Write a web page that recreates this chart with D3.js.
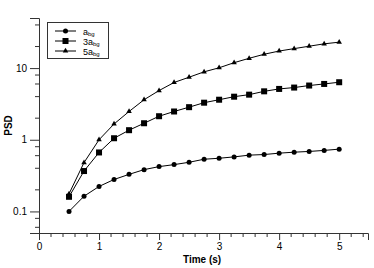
<!DOCTYPE html>
<html lang="en">
<head>
<meta charset="UTF-8">
<title>PSD vs Time</title>
<style>
    body { margin: 0; background: #fff; }
    svg { display: block; font-family: "Liberation Sans", Arial, sans-serif; }
    .axis path, .axis line { stroke: #333; }
    .axis text { font-size: 10px; fill: #000; }
    .series { fill: none; stroke: #000; stroke-width: 1; }
</style>
</head>
<body>
<svg id="chart" width="374" height="268"></svg>
<script src="https://d3js.org/d3.v7.min.js"></script>
<script>
// time points (s)
const times = [0.5, 0.75, 1.0, 1.25, 1.5, 1.75, 2.0, 2.25, 2.5, 2.75, 3.0, 3.25, 3.5, 3.75, 4.0, 4.25, 4.5, 4.75, 5.0];

// PSD values
const psdA  = [0.10, 0.163, 0.223, 0.279, 0.329, 0.383, 0.422, 0.45, 0.485, 0.535, 0.552, 0.577, 0.61, 0.622, 0.65, 0.671, 0.687, 0.71, 0.74];
const psd3A = [0.16, 0.366, 0.665, 1.05, 1.36, 1.70, 2.13, 2.48, 2.85, 3.29, 3.62, 3.99, 4.26, 4.74, 5.12, 5.35, 5.71, 6.01, 6.35];
const psd5A = [0.176, 0.48, 1.0, 1.66, 2.48, 3.62, 4.86, 6.3, 7.46, 8.87, 10.1, 11.9, 13.7, 15.6, 17.3, 18.7, 20.2, 21.8, 23.0];

const seriesNames = ["a", "3a", "5a"];
const seriesMarkers = ["circle", "square", "triangle"];

const xTicks = [0, 1, 2, 3, 4, 5];
const yTicks = [0.1, 1, 10];

const svg = d3.select("#chart");
const margin = { left: 39, right: 5, top: 18, bottom: 35 };

const x = d3.scaleLinear().domain([0, 5.48]).range([margin.left, 368]);
const y = d3.scaleLog().domain([0.05, 50]).range([233, margin.top]);

// minor ticks
const xMinor = d3.range(0, 5.41, 0.2).filter(v => Math.abs(v - Math.round(v)) > 1e-6);
const yMinor = [];
[0.01, 0.1, 1, 10].forEach(d => [2, 4, 6, 8].forEach(m => {
    const v = d * m;
    if (v >= 0.05 && v <= 50) yMinor.push(v);
}));

const xAxis = svg.append("g").attr("class", "axis")
    .attr("transform", "translate(0,233)")
    .call(d3.axisBottom(x).tickValues(xTicks).tickFormat(d3.format("d")).tickSizeOuter(0).tickSize(7).tickPadding(3));
xAxis.selectAll(".minor").data(xMinor).enter().append("line")
    .attr("x1", d => x(d)).attr("x2", d => x(d))
    .attr("y1", 0).attr("y2", 4).attr("stroke", "#333");

const yAxis = svg.append("g").attr("class", "axis")
    .attr("transform", "translate(39,0)")
    .call(d3.axisLeft(y).tickValues(yTicks).tickFormat(d => d).tickSizeOuter(0).tickSize(9).tickPadding(3));
yAxis.selectAll(".minor").data(yMinor).enter().append("line")
    .attr("x1", 0).attr("x2", -4)
    .attr("y1", d => y(d)).attr("y2", d => y(d)).attr("stroke", "#333");

// axis titles
svg.append("text")
    .attr("x", x(2.75) - 2).attr("y", 263)
    .attr("text-anchor", "middle")
    .attr("font-size", 10).attr("font-weight", "bold")
    .text("Time (s)");
svg.append("text")
    .attr("transform", "translate(12,125.5) rotate(-90)")
    .attr("text-anchor", "middle")
    .attr("font-size", 10).attr("font-weight", "bold")
    .text("PSD");

function drawMarker(g, type, cx, cy) {
    if (type === "circle") {
        g.append("circle").attr("cx", cx).attr("cy", cy).attr("r", 2.5).attr("fill", "#000");
    } else if (type === "square") {
        g.append("rect").attr("x", cx - 3).attr("y", cy - 3).attr("width", 6).attr("height", 6).attr("fill", "#000");
    } else {
        g.append("path").attr("d", d3.symbol(d3.symbolTriangle, 13)()).attr("transform", `translate(${cx},${cy})`).attr("fill", "#000");
    }
}

const allSeries = [psdA, psd3A, psd5A];
const line = d3.line().x(d => x(d[0])).y(d => y(d[1]));

allSeries.forEach((vals, i) => {
    const pts = times.map((t, j) => [t, vals[j]]);
    const g = svg.append("g");
    g.append("path").datum(pts).attr("class", "series").attr("d", line);
    pts.forEach(p => drawMarker(g, seriesMarkers[i], x(p[0]), y(p[1])));
});

// legend
const legend = svg.append("g");
legend.append("rect")
    .attr("x", 47.5).attr("y", 22.5).attr("width", 61).attr("height", 36)
    .attr("fill", "#fff").attr("stroke", "#333");
seriesNames.forEach((name, i) => {
    const ly = 31 + i * 10;
    legend.append("line").attr("x1", 55).attr("x2", 76).attr("y1", ly).attr("y2", ly).attr("stroke", "#000");
    drawMarker(legend, seriesMarkers[i], 65.5, ly);
    const t = legend.append("text").attr("x", 83).attr("y", ly + 3.5).attr("font-size", 9);
    t.append("tspan").text(name);
    t.append("tspan").attr("font-size", 6).attr("dy", 1.5).text("bg");
});
</script>
</body>
</html>
